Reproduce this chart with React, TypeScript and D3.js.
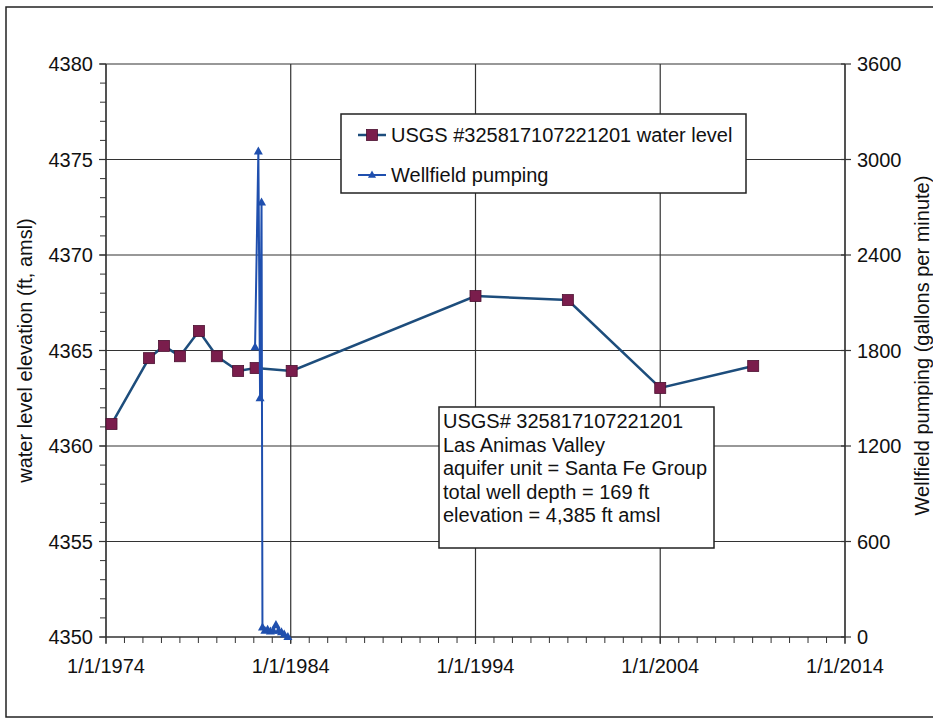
import React from 'react';
import * as d3 from 'd3';

const waterDates = ['1974-04-20', '1976-05-01', '1977-02-20', '1978-01-01', '1979-01-12', '1980-01-01', '1981-02-25', '1982-02-06', '1984-01-20', '1994-01-01', '1999-01-01', '2004-01-01', '2009-01-12'];
const waterLevels = [4361.15, 4364.6, 4365.24, 4364.7, 4366.02, 4364.7, 4363.93, 4364.08, 4363.93, 4367.85, 4367.64, 4363.04, 4364.19];

const pumpDates = ['1982-01-26', '1982-04-01', '1982-05-05', '1982-06-03', '1982-06-21', '1982-08-08', '1982-10-01', '1982-11-25', '1983-01-20', '1983-03-15', '1983-05-08', '1983-07-02', '1983-08-25', '1983-11-06'];
const pumpRates = [1820, 3050, 1500, 2730, 60, 40, 45, 35, 40, 75, 40, 30, 15, 0];

const leftTicks = [4350, 4355, 4360, 4365, 4370, 4375, 4380];
const rightTicks = [0, 600, 1200, 1800, 2400, 3000, 3600];
const xTickYears = [1974, 1984, 1994, 2004, 2014];

const legendLabels = ['USGS #325817107221201 water level', 'Wellfield pumping'];
const annotationLines = ['USGS# 325817107221201', 'Las Animas Valley', 'aquifer unit = Santa Fe Group', 'total well depth = 169 ft', 'elevation = 4,385 ft amsl'];
const leftTitle = 'water level elevation (ft, amsl)';
const rightTitle = 'Wellfield pumping (gallons per minute)';

const FONT = '"Liberation Sans", Arial, Helvetica, sans-serif';
const WATER_LINE = '#1d4d7c';
const WATER_MARK = '#7a1d4c';
const PUMP = '#1f4fae';
const GRID = '#333333';

export default function App() {
  const W = 933, H = 725;
  const L = 106, R = 845, T = 64, B = 637;
  const parse = d3.timeParse('%Y-%m-%d');
  const x = d3.scaleTime().domain([new Date(1974, 0, 1), new Date(2014, 0, 1)]).range([L, R]);
  const yL = d3.scaleLinear().domain([4350, 4380]).range([B, T]);
  const yR = d3.scaleLinear().domain([0, 3600]).range([B, T]);

  const water = waterDates.map((d, i) => ({ d: parse(d) as Date, v: waterLevels[i] }));
  const pump = pumpDates.map((d, i) => ({ d: parse(d) as Date, v: pumpRates[i] }));

  const waterLine = d3.line<{ d: Date; v: number }>().x(p => x(p.d)).y(p => yL(p.v))(water) || '';
  const pumpLine = d3.line<{ d: Date; v: number }>().x(p => x(p.d)).y(p => yR(p.v))(pump) || '';

  const minorYears = d3.range(1974, 2015);
  const minorLeft = d3.range(4350, 4381);

  const tri = (cx: number, cy: number, s: number) => `M${cx},${cy - s}L${cx + s * 0.9},${cy + s * 0.6}L${cx - s * 0.9},${cy + s * 0.6}Z`;

  return (
    <svg width={W} height={H} style={{ position: 'absolute', left: 0, top: 0, background: '#fff' }} fontFamily={FONT}>
      <rect x={0} y={0} width={W} height={H} fill="#fff" />
      {/* outer frame */}
      <rect x={6} y={7} width={W + 20} height={710} fill="none" stroke="#222" strokeWidth={1.5} />

      {/* horizontal gridlines */}
      {leftTicks.map(t => (
        <line key={'hg' + t} x1={L} x2={R} y1={yL(t)} y2={yL(t)} stroke={GRID} strokeWidth={1.2} />
      ))}
      {/* vertical gridlines */}
      {xTickYears.map(yr => (
        <line key={'vg' + yr} x1={x(new Date(yr, 0, 1))} x2={x(new Date(yr, 0, 1))} y1={T} y2={B + 7} stroke={GRID} strokeWidth={1.2} />
      ))}
      {/* axes lines */}
      <line x1={L} x2={L} y1={T} y2={B} stroke={GRID} strokeWidth={1.2} />
      <line x1={R} x2={R} y1={T} y2={B} stroke={GRID} strokeWidth={1.2} />
      <line x1={L} x2={R} y1={B} y2={B} stroke={GRID} strokeWidth={1.2} />

      {/* x minor ticks */}
      {minorYears.map(yr => (
        <line key={'xm' + yr} x1={x(new Date(yr, 0, 1))} x2={x(new Date(yr, 0, 1))} y1={B} y2={B + 6} stroke={GRID} strokeWidth={1} />
      ))}
      {/* left minor ticks */}
      {minorLeft.map(v => (
        <line key={'lm' + v} x1={L - 6} x2={L} y1={yL(v)} y2={yL(v)} stroke={GRID} strokeWidth={1} />
      ))}
      {/* left major ticks */}
      {leftTicks.map(t => (
        <line key={'lt' + t} x1={L - 7} x2={L} y1={yL(t)} y2={yL(t)} stroke={GRID} strokeWidth={1.2} />
      ))}
      {/* right major ticks */}
      {rightTicks.map(t => (
        <line key={'rt' + t} x1={R - 4} x2={R + 6} y1={yR(t)} y2={yR(t)} stroke={GRID} strokeWidth={1.2} />
      ))}

      {/* tick labels */}
      {leftTicks.map(t => (
        <text key={'ll' + t} x={L - 13} y={yL(t) + 7} textAnchor="end" fontSize={20} fill="#111">{t}</text>
      ))}
      {rightTicks.map(t => (
        <text key={'rl' + t} x={R + 12} y={yR(t) + 7} textAnchor="start" fontSize={20} fill="#111">{t}</text>
      ))}
      {xTickYears.map(yr => (
        <text key={'xl' + yr} x={x(new Date(yr, 0, 1))} y={B + 36} textAnchor="middle" fontSize={20} fill="#111">{`1/1/${yr}`}</text>
      ))}

      {/* axis titles */}
      <text transform={`translate(32, ${(T + B) / 2}) rotate(-90)`} textAnchor="middle" fontSize={20} fill="#111">{leftTitle}</text>
      <text transform={`translate(929, ${(T + B) / 2 - 5}) rotate(-90)`} textAnchor="middle" fontSize={20} fill="#111">{rightTitle}</text>

      {/* water level series */}
      <path d={waterLine} fill="none" stroke={WATER_LINE} strokeWidth={2.5} />
      {water.map((p, i) => (
        <rect key={'wm' + i} x={x(p.d) - 5.5} y={yL(p.v) - 5.5} width={11} height={11} fill={WATER_MARK} stroke="#4a1030" strokeWidth={0.8} />
      ))}

      {/* pumping series */}
      <path d={pumpLine} fill="none" stroke={PUMP} strokeWidth={2} />
      {pump.map((p, i) => (
        <path key={'pm' + i} d={tri(x(p.d), yR(p.v), 5)} fill={PUMP} />
      ))}

      {/* legend */}
      <rect x={341} y={114} width={405} height={79} fill="#fff" stroke="#222" strokeWidth={1.5} />
      <line x1={358} x2={386} y1={135} y2={135} stroke={WATER_LINE} strokeWidth={2.5} />
      <rect x={366.5} y={129.5} width={11} height={11} fill={WATER_MARK} stroke="#4a1030" strokeWidth={0.8} />
      <text x={391} y={142} fontSize={20} fill="#111">{legendLabels[0]}</text>
      <line x1={358} x2={386} y1={175} y2={175} stroke={PUMP} strokeWidth={2} />
      <path d={tri(372, 175, 4.5)} fill={PUMP} />
      <text x={391} y={182} fontSize={20} fill="#111">{legendLabels[1]}</text>

      {/* annotation box */}
      <rect x={439} y={407} width={275} height={141} fill="#fff" stroke="#222" strokeWidth={1.5} />
      {annotationLines.map((s, i) => (
        <text key={'an' + i} x={443} y={428 + i * 23.5} fontSize={20} fill="#111">{s}</text>
      ))}
    </svg>
  );
}
